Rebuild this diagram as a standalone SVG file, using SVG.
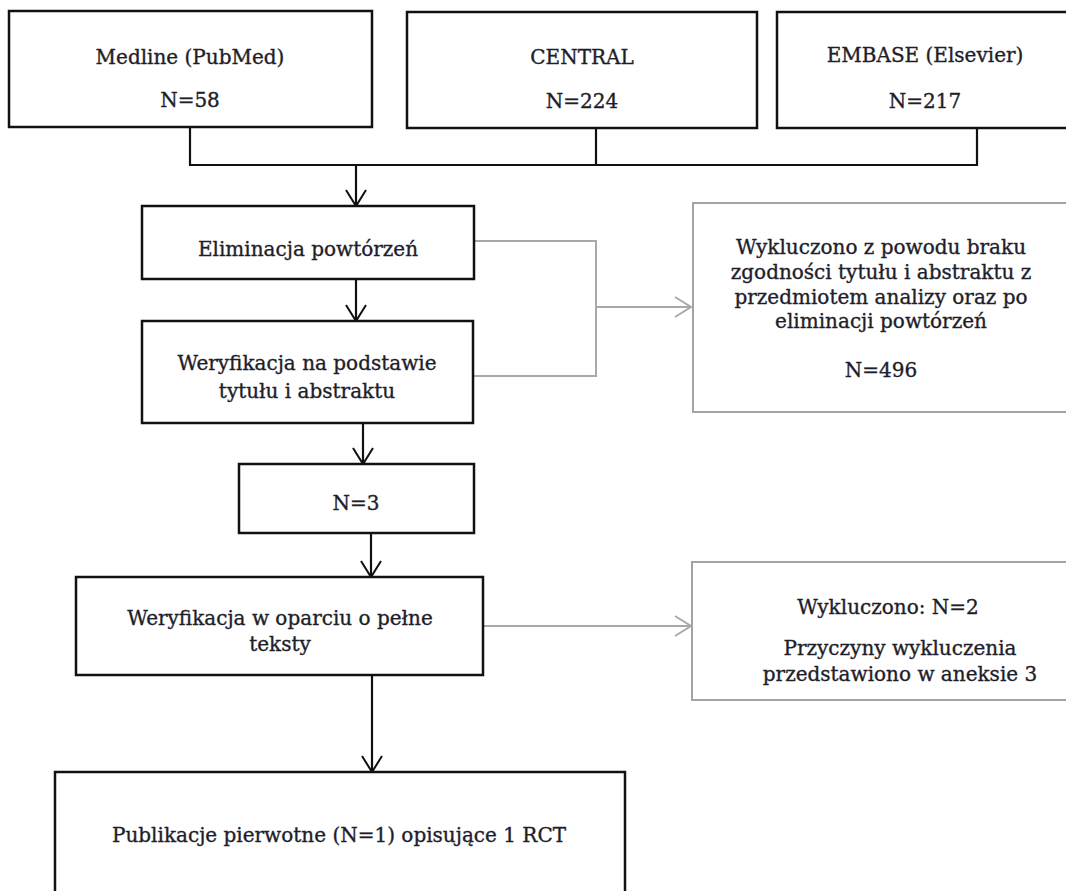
<svg xmlns="http://www.w3.org/2000/svg" width="1066" height="891" viewBox="0 0 1066 891">
<style>
  .box { fill: #ffffff; stroke: #111111; stroke-width: 2.5; }
  .gbox { fill: #ffffff; stroke: #a3a3a3; stroke-width: 2; }
  .t { font-family: "DejaVu Serif", "Liberation Serif", serif; font-size: 20px; fill: #1e1e2a; stroke: #1e1e2a; stroke-width: 0.35; text-anchor: middle; }
  .c { fill: none; stroke: #111111; stroke-width: 2.2; }
  .g { fill: none; stroke: #a8a8a8; stroke-width: 2; }
</style>
<defs>
  <marker id="ah" viewBox="0 0 20 22" refX="18" refY="11" markerWidth="20" markerHeight="22" markerUnits="userSpaceOnUse" orient="auto">
    <path d="M2,1 L18,11 L2,21" fill="none" stroke="#111111" stroke-width="2"/>
  </marker>
  <marker id="ahg" viewBox="0 0 20 22" refX="18" refY="11" markerWidth="20" markerHeight="22" markerUnits="userSpaceOnUse" orient="auto">
    <path d="M2,1 L18,11 L2,21" fill="none" stroke="#a8a8a8" stroke-width="2"/>
  </marker>
</defs>
<rect width="1066" height="891" fill="#ffffff"/>

<g id="connectors">
  <polyline class="c" points="190,127 190,165 977,165 977,128"/>
  <line class="c" x1="596" y1="127" x2="596" y2="165"/>
  <line class="c" x1="356" y1="165" x2="356" y2="206" marker-end="url(#ah)"/>
  <line class="c" x1="356" y1="279" x2="356" y2="321" marker-end="url(#ah)"/>
  <line class="c" x1="363" y1="423" x2="363" y2="464" marker-end="url(#ah)"/>
  <line class="c" x1="371" y1="533" x2="371" y2="577" marker-end="url(#ah)"/>
  <line class="c" x1="372" y1="675" x2="372" y2="772" marker-end="url(#ah)"/>
  <polyline class="g" points="474,241 596,241 596,376 474,376"/>
  <line class="g" x1="596" y1="307" x2="691" y2="307" marker-end="url(#ahg)"/>
  <line class="g" x1="483" y1="626" x2="691" y2="626" marker-end="url(#ahg)"/>
</g>

<g id="medline">
  <rect class="box" x="9" y="11" width="363" height="116"/>
  <text class="t" x="190" y="64">Medline (PubMed)</text>
  <text class="t" x="190" y="107">N=58</text>
</g>
<g id="central">
  <rect class="box" x="407" y="12" width="350" height="116"/>
  <text class="t" x="582" y="64">CENTRAL</text>
  <text class="t" x="582" y="108">N=224</text>
</g>
<g id="embase">
  <rect class="box" x="777" y="12" width="300" height="116"/>
  <text class="t" x="925" y="62">EMBASE (Elsevier)</text>
  <text class="t" x="925" y="108">N=217</text>
</g>
<g id="eliminacja">
  <rect class="box" x="142" y="206" width="332" height="73"/>
  <text class="t" x="308" y="256">Eliminacja powtórzeń</text>
</g>
<g id="weryfikacja1">
  <rect class="box" x="142" y="321" width="331" height="102"/>
  <text class="t" x="307" y="370">Weryfikacja na podstawie</text>
  <text class="t" x="307" y="398">tytułu i abstraktu</text>
</g>
<g id="wykluczono1">
  <rect class="gbox" x="693" y="203" width="390" height="209"/>
  <text class="t" x="881" y="254">Wykluczono z powodu braku</text>
  <text class="t" x="881" y="279">zgodności tytułu i abstraktu z</text>
  <text class="t" x="881" y="304">przedmiotem analizy oraz po</text>
  <text class="t" x="881" y="328">eliminacji powtórzeń</text>
  <text class="t" x="881" y="377">N=496</text>
</g>
<g id="n3">
  <rect class="box" x="239" y="464" width="235" height="69"/>
  <text class="t" x="356" y="510">N=3</text>
</g>
<g id="weryfikacja2">
  <rect class="box" x="76" y="577" width="407" height="98"/>
  <text class="t" x="280" y="625">Weryfikacja w oparciu o pełne</text>
  <text class="t" x="280" y="651">teksty</text>
</g>
<g id="wykluczono2">
  <rect class="gbox" x="692" y="562" width="390" height="138"/>
  <text class="t" x="888" y="614">Wykluczono: N=2</text>
  <text class="t" x="900" y="655">Przyczyny wykluczenia</text>
  <text class="t" x="900" y="681">przedstawiono w aneksie 3</text>
</g>
<g id="publikacje">
  <rect class="box" x="55" y="772" width="570" height="140"/>
  <text class="t" x="339" y="842">Publikacje pierwotne (N=1) opisujące 1 RCT</text>
</g>
</svg>
